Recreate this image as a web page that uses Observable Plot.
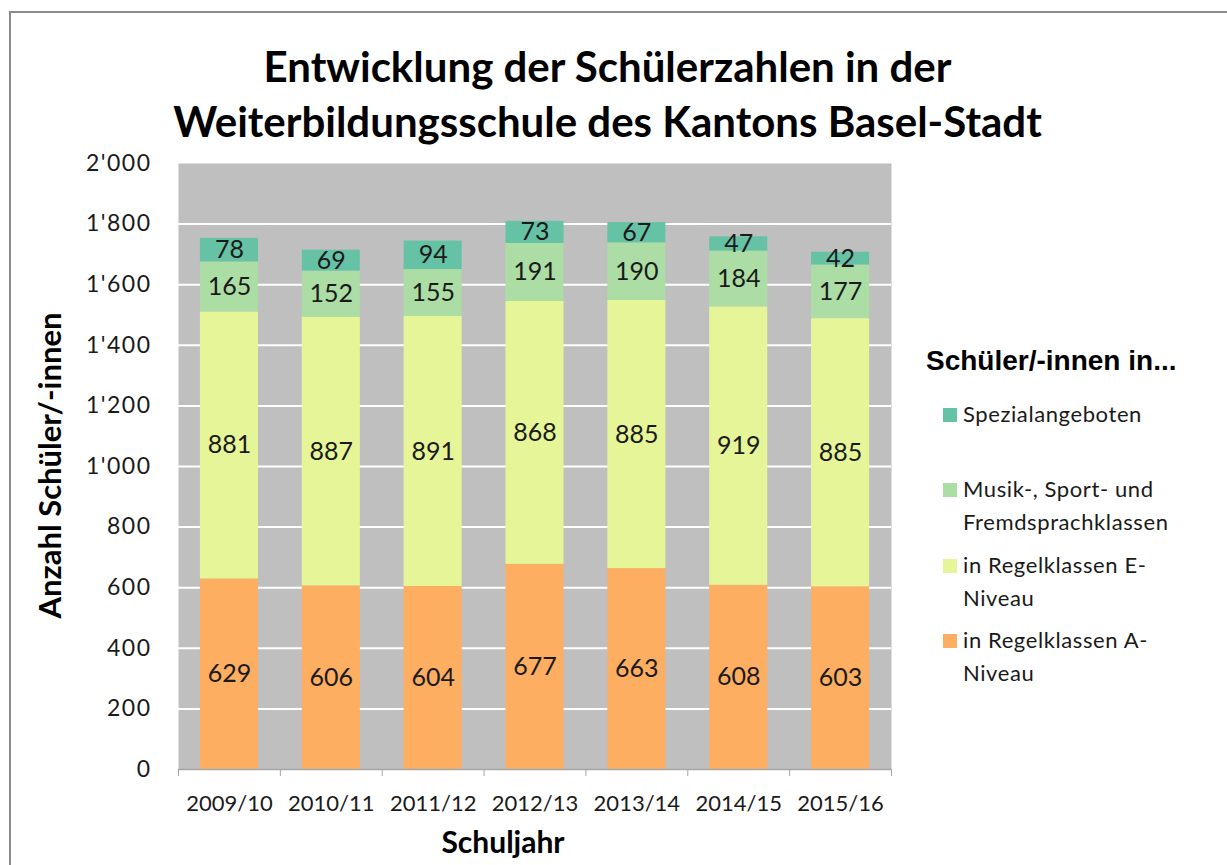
<!DOCTYPE html>
<html>
<head>
<meta charset="utf-8">
<script src="https://cdn.jsdelivr.net/npm/d3@7"></script>
<script src="https://cdn.jsdelivr.net/npm/@observablehq/plot@0.6"></script>
<style>
  html, body { margin: 0; padding: 0; background: #fff; overflow: hidden; }
  #wrap { position: relative; width: 1227px; height: 865px; overflow: hidden; font-family: Lato, sans-serif; color: #1a1a1a; }
  #border { position: absolute; left: 9px; top: 11px; width: 1400px; height: 1000px; border: 2px solid #8c8c8c; }
  #title { position: absolute; left: 0; top: 39px; width: 1215px; text-align: center; font-weight: bold; font-size: 42px; line-height: 55px; color: #000; }
  #chart { position: absolute; left: 0; top: 150px; }
  #chart g[aria-label="y-axis tick label"] text { letter-spacing: 1.5px; }
  #legtitle { position: absolute; left: 926px; top: 347px; font-family: "Liberation Sans", Arial, sans-serif; font-weight: bold; font-size: 28px; line-height: 27px; color: #000; white-space: nowrap; }
  .item { position: absolute; left: 963px; font-size: 22px; line-height: 33px; white-space: nowrap; letter-spacing: 0.6px; }
  .sw { position: absolute; left: -20px; top: 11px; width: 14px; height: 14px; }
</style>
</head>
<body>
<div id="wrap">
  <div id="border"></div>
  <div id="title">Entwicklung der Schülerzahlen in der<br>Weiterbildungsschule des Kantons Basel-Stadt</div>
  <div id="chart"></div>
  <div id="legtitle">Schüler/-innen in...</div>
  <div id="legend"></div>
</div>
<script>
const categories = ["2009/10", "2010/11", "2011/12", "2012/13", "2013/14", "2014/15", "2015/16"];
const seriesNames = ["in Regelklassen A-Niveau", "in Regelklassen E-Niveau", "Musik-, Sport- und Fremdsprachklassen", "Spezialangeboten"];
const aNiveau = [629, 606, 604, 677, 663, 608, 603];
const eNiveau = [881, 887, 891, 868, 885, 919, 885];
const musik = [165, 152, 155, 191, 190, 184, 177];
const spezial = [78, 69, 94, 73, 67, 47, 42];
const colors = ["#fdae61", "#e6f598", "#abdda4", "#66c2a5"];
const yTicks = [0, 200, 400, 600, 800, 1000, 1200, 1400, 1600, 1800, 2000];
const legendLines = [
  ["Spezialangeboten"],
  ["Musik-, Sport- und", "Fremdsprachklassen"],
  ["in Regelklassen E-", "Niveau"],
  ["in Regelklassen A-", "Niveau"]
];
const legendColors = ["#66c2a5", "#abdda4", "#e6f598", "#fdae61"];

const seriesValues = [aNiveau, eNiveau, musik, spezial];
const table = categories.flatMap((c, i) => seriesNames.map((s, j) => ({year: c, series: s, value: seriesValues[j][i]})));

const fmt = d3.formatLocale({decimal: ".", thousands: "'", grouping: [3], currency: ["", ""]}).format(",");

const W = 900, H = 700, mL = 178, mR = 9, mT = 13, mB = 81;
const step = (W - mL - mR) / categories.length;

const chart = Plot.plot({
  width: W, height: H,
  marginTop: mT, marginBottom: mB, marginLeft: mL, marginRight: mR,
  style: {fontFamily: "Lato, sans-serif", fontSize: "22px", color: "#1a1a1a", background: "transparent", overflow: "visible"},
  x: {domain: categories, paddingInner: 0.43, paddingOuter: 0.215, round: false, label: null},
  y: {domain: [0, 2000], label: null},
  color: {domain: seriesNames, range: colors},
  marks: [
    Plot.frame({fill: "#bfbfbf", stroke: null}),
    Plot.gridY(yTicks.slice(1, -1), {stroke: "white", strokeOpacity: 1, strokeWidth: 2}),
    Plot.barY(table, {x: "year", y: "value", fill: "series"}),
    Plot.text(table, Plot.stackY({x: "year", y: "value", z: "series", text: d => String(d.value), fontSize: 25, fill: "#1a1a1a"})),
    Plot.ruleY([0], {stroke: "#a6a6a6", strokeWidth: 1.5}),
    Plot.axisY({ticks: yTicks, tickSize: 0, tickPadding: 27, tickFormat: fmt, fontSize: 23}),
    Plot.axisX({tickSize: 0, tickPadding: 26, fontSize: 22}),
    Plot.axisX({tickSize: 7, tickFormat: () => "", dx: -step / 2, stroke: "#a6a6a6"}),
    Plot.axisX({ticks: [categories[categories.length - 1]], tickSize: 7, tickFormat: () => "", dx: step / 2, stroke: "#a6a6a6"}),
    Plot.text(["Schuljahr"], {text: d => d, frameAnchor: "bottom", dy: 83, dx: -32, fontWeight: "bold", fontSize: 30, fill: "#000"}),
    Plot.text(["Anzahl Schüler/-innen"], {text: d => d, frameAnchor: "left", textAnchor: "middle", rotate: -90, dx: -127, dy: -1, fontWeight: "bold", fontSize: 31, fill: "#000"})
  ]
});
document.getElementById("chart").appendChild(chart);

const baselines = [422, 497, 573, 648];
const legend = document.getElementById("legend");
legendLines.forEach((lines, i) => {
  const div = document.createElement("div");
  div.className = "item";
  div.style.top = (baselines[i] - 25) + "px";
  div.innerHTML = lines.join("<br>");
  const sw = document.createElement("div");
  sw.className = "sw";
  sw.style.background = legendColors[i];
  div.appendChild(sw);
  legend.appendChild(div);
});
</script>
</body>
</html>
